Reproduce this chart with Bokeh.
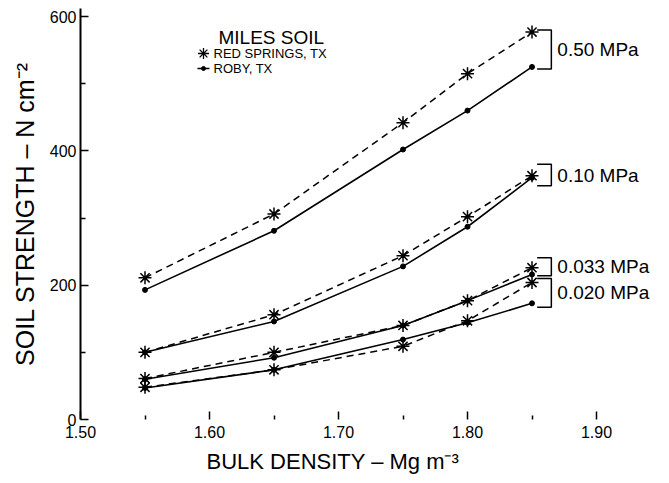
from bokeh.plotting import figure
from bokeh.models import Range1d, FixedTicker, PrintfTickFormatter, Label, Title
from bokeh.embed import file_html
from bokeh.resources import INLINE

# ---- data ----
density = [1.55, 1.65, 1.75, 1.80, 1.85]
suction_labels = ["0.50 MPa", "0.10 MPa", "0.033 MPa", "0.020 MPa"]

red_springs_050 = [211, 306, 442, 515, 577]
red_springs_010 = [100, 156, 244, 302, 363]
red_springs_0033 = [61, 100, 140, 177, 226]
red_springs_0020 = [48, 74, 109, 147, 204]

roby_050 = [193, 281, 402, 460, 525]
roby_010 = [100, 146, 228, 287, 360]
roby_0033 = [60, 92, 140, 177, 216]
roby_0020 = [47, 74, 119, 144, 173]

bracket_top = [580, 380, 241, 210]
bracket_bottom = [522, 348, 214, 167]

x_ticks = [1.50, 1.60, 1.70, 1.80, 1.90]
x_minor = [1.55, 1.65, 1.75, 1.85]
y_ticks = [0, 200, 400, 600]
y_minor = [100, 300, 500]

red_springs = [red_springs_050, red_springs_010, red_springs_0033, red_springs_0020]
roby = [roby_050, roby_010, roby_0033, roby_0020]

FONT = "Liberation Sans"
W, H = 669, 483
L, R, T, B = 80, 0, 8, 64
PX_PER_X = 516 / 0.40            # 1.50 .. 1.90 spans 516 px as in the reference
X_END = 1.50 + (W - L - R) / PX_PER_X
Y_END = 612

p = figure(width=W, height=H, output_backend="svg", toolbar_location=None,
           x_range=Range1d(1.50, X_END), y_range=Range1d(0, Y_END),
           min_border_left=L, min_border_right=R, min_border_top=T, min_border_bottom=B)
p.outline_line_color = None
p.grid.grid_line_color = None
p.background_fill_color = "white"
p.border_fill_color = "white"

# helpers for placing annotation text (screen px -> data)
def px2x(px):
    return 1.50 + (px - L) / PX_PER_X

def py2y(py):
    return (H - B - py) * (Y_END / (H - B - T))

# axes
xa = p.xaxis[0]
xa.ticker = FixedTicker(ticks=x_ticks, minor_ticks=x_minor)
xa.formatter = PrintfTickFormatter(format="%.2f")
xa.axis_line_color = None
xa.major_tick_in = 8
xa.major_tick_out = 0
xa.minor_tick_in = 4
xa.minor_tick_out = 0
xa.major_tick_line_width = 1.5
xa.minor_tick_line_width = 1.5
xa.major_label_standoff = 6
xa.major_label_text_font = FONT
xa.major_label_text_font_size = "16px"
xa.major_label_text_color = "black"

p.add_layout(Title(text="BULK DENSITY – Mg m⁻³", align="left", offset=126,
                   text_font=FONT, text_font_style="normal", text_font_size="22px",
                   text_color="black", standoff=13), "below")

ya = p.yaxis[0]
ya.ticker = FixedTicker(ticks=y_ticks, minor_ticks=y_minor)
ya.axis_line_width = 2
ya.axis_line_color = "black"
ya.major_tick_in = 8
ya.major_tick_out = 0
ya.minor_tick_in = 5
ya.minor_tick_out = 0
ya.major_tick_line_width = 1.5
ya.minor_tick_line_width = 1.5
ya.major_label_standoff = 4
ya.major_label_text_font = FONT
ya.major_label_text_font_size = "16px"
ya.major_label_text_color = "black"
ya.axis_label = "SOIL STRENGTH – N cm⁻²"
ya.axis_label_text_font = FONT
ya.axis_label_text_font_style = "normal"
ya.axis_label_text_font_size = "25px"
ya.axis_label_text_color = "black"
ya.axis_label_standoff = 8

# data lines
for rs, rb in zip(red_springs, roby):
    p.line(density, rs, line_color="black", line_width=1.5, line_dash="7 5")
    p.scatter(density, rs, marker="asterisk", size=13, line_color="black", line_width=1.5)
    p.line(density, rb, line_color="black", line_width=1.6)
    p.scatter(density, rb, marker="circle", size=5, fill_color="black", line_color="black")

# brackets and pressure labels
bx = density[-1] + 0.015
ax = density[-1] + 0.004
for top, bot, lab in zip(bracket_top, bracket_bottom, suction_labels):
    p.line([ax, bx, bx, ax], [top, top, bot, bot], line_color="black", line_width=1.5)
    p.add_layout(Label(x=bx, y=(top + bot) / 2, x_offset=6, text=lab,
                       text_baseline="middle", text_align="left",
                       text_font=FONT, text_font_size="19px", text_color="black"))

# legend
p.add_layout(Label(x=px2x(218), y=py2y(37), text="MILES SOIL", text_baseline="middle",
                   text_font=FONT, text_font_size="19px", text_color="black"))
p.scatter([px2x(203)], [py2y(53)], marker="asterisk", size=11, line_color="black", line_width=1.3)
p.add_layout(Label(x=px2x(213), y=py2y(53), text="RED SPRINGS, TX", text_baseline="middle",
                   text_font=FONT, text_font_size="13px", text_color="black"))
p.line([px2x(197), px2x(209)], [py2y(68), py2y(68)], line_color="black", line_width=1.3)
p.scatter([px2x(203)], [py2y(68)], marker="circle", size=4, fill_color="black", line_color="black")
p.add_layout(Label(x=px2x(213), y=py2y(68), text="ROBY, TX", text_baseline="middle",
                   text_font=FONT, text_font_size="13px", text_color="black"))

open("out.html", "w").write(file_html(p, INLINE))
